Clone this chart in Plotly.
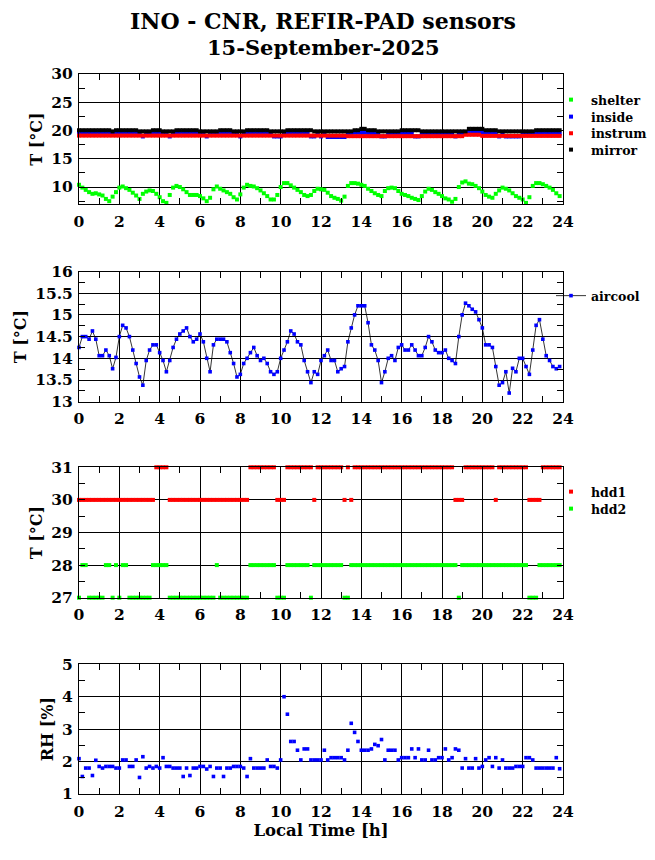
import plotly.graph_objects as go

# ---------------- data ----------------
minutes = list(range(0, 1440, 10))          # 10-minute sampling, 00:00 - 23:50
time_h = [m / 60 for m in minutes]

shelter = [10.4, 9.9, 9.5, 9.1, 8.8, 8.9, 8.7, 8.5, 7.9, 7.5,
           8.3, 9.1, 9.9, 10.1, 9.8, 9.5, 9.0, 8.5, 7.9, 8.8,
           9.2, 9.4, 9.3, 8.8, 8.2, 7.5, 7.2, 8.6, 9.9, 10.2,
           10.0, 9.6, 9.1, 8.6, 8.6, 8.6, 8.4, 8.0, 7.5, 8.1,
           9.6, 10.1, 9.7, 9.4, 9.1, 8.8, 8.2, 7.8, 8.7, 9.9,
           10.4, 10.2, 10.1, 9.8, 9.4, 8.9, 8.4, 7.8, 7.8, 8.6,
           10.0, 10.7, 10.7, 10.3, 9.9, 9.5, 9.1, 8.6, 8.4, 8.6,
           9.3, 9.7, 9.6, 9.5, 9.0, 8.4, 8.1, 7.9, 7.6, 8.3,
           10.2, 10.7, 10.7, 10.6, 10.4, 10.2, 9.7, 9.3, 8.9, 8.6,
           8.4, 9.3, 9.8, 9.9, 9.8, 9.3, 8.8, 8.6, 8.4, 8.1,
           7.9, 7.7, 8.4, 9.2, 9.7, 9.5, 9.1, 8.8, 8.4, 8.0,
           7.8, 7.4, 7.9, 10.0, 10.8, 11.0, 10.6, 10.5, 10.2, 9.8,
           9.2, 8.6, 8.3, 8.1, 8.8, 9.4, 9.9, 9.7, 9.4, 8.9,
           8.4, 8.1, 7.8, 7.2, 8.2, 10.2, 10.7, 10.7, 10.5, 10.2,
           9.9, 9.5, 8.9, 8.4]

inside = [19.45, 19.45, 19.45, 19.45, 19.45, 19.45, 19.45, 19.45, 19.45, 19.45, 19.45, 19.45,
          19.45, 19.45, 19.45, 19.45, 19.45, 19.45, 19.45, 18.95, 19.45, 19.45, 19.45, 19.45,
          19.45, 19.45, 19.45, 18.95, 19.45, 19.45, 19.45, 19.45, 19.45, 19.45, 19.45, 19.45,
          19.45, 19.45, 18.95, 19.45, 19.45, 19.45, 19.45, 19.45, 19.45, 19.45, 19.45, 19.45,
          18.95, 19.45, 19.45, 19.45, 19.45, 19.45, 19.45, 19.45, 19.45, 19.45, 18.95, 18.95,
          18.95, 19.45, 19.45, 19.45, 19.45, 19.45, 19.45, 19.45, 19.45, 18.95, 18.95, 19.45,
          18.95, 19.45, 18.85, 18.85, 18.85, 18.85, 18.85, 18.85, 19.45, 19.45, 19.6, 19.6,
          19.6, 19.6, 19.45, 19.45, 19.45, 19.45, 18.95, 18.95, 19.45, 19.45, 19.45, 19.45,
          19.45, 19.45, 19.45, 19.45, 18.95, 18.95, 19.45, 19.45, 19.45, 19.45, 19.45, 19.45,
          19.45, 19.45, 19.45, 19.45, 18.95, 19.45, 19.45, 19.45, 19.6, 19.6, 19.6, 19.6,
          19.6, 19.45, 19.45, 19.45, 19.45, 18.95, 19.45, 18.95, 18.95, 18.95, 18.95, 18.95,
          19.45, 19.45, 19.45, 19.45, 19.45, 19.45, 19.45, 19.45, 19.45, 19.45, 19.45, 19.45]

instrum = [19.1, 19.1, 19.1, 19.1, 19.1, 19.1, 19.1, 19.1, 19.1, 19.1, 19.1, 19.1,
           19.1, 19.1, 19.1, 19.1, 19.1, 19.1, 19.1, 19.1, 19.1, 19.1, 19.1, 19.1,
           19.1, 19.1, 19.1, 19.1, 19.1, 19.1, 19.1, 19.1, 19.1, 19.1, 19.1, 19.1,
           19.1, 19.1, 19.1, 19.1, 19.1, 19.1, 19.1, 19.1, 19.1, 19.1, 19.1, 19.1,
           19.1, 19.1, 19.1, 19.1, 19.1, 19.1, 19.1, 19.1, 19.1, 19.1, 19.1, 19.1,
           19.1, 19.1, 19.1, 19.1, 19.1, 19.1, 19.1, 19.1, 19.1, 19.1, 19.1, 19.1,
           19.1, 19.1, 19.1, 19.1, 19.1, 19.1, 19.1, 19.1, 19.0, 19.0, 19.0, 19.0,
           19.0, 19.0, 19.0, 19.0, 19.0, 19.0, 19.0, 19.0, 19.0, 19.0, 19.0, 19.0,
           19.0, 19.0, 19.0, 19.0, 19.0, 19.0, 19.0, 19.0, 19.0, 19.0, 19.0, 19.0,
           19.0, 19.0, 19.0, 19.0, 19.0, 19.0, 19.0, 19.25, 19.25, 19.25, 19.25, 19.25,
           19.05, 19.05, 19.05, 19.05, 19.05, 19.05, 19.05, 19.05, 19.05, 19.05, 19.05, 19.05,
           19.05, 19.05, 19.05, 19.05, 19.05, 19.05, 19.05, 19.05, 19.05, 19.05, 19.05, 19.05]

mirror = [20.05, 20.05, 20.05, 20.05, 20.05, 20.05, 20.05, 20.05, 20.05, 20.05, 19.85, 20.05,
          20.05, 20.05, 20.05, 20.05, 20.05, 20.05, 19.85, 19.85, 19.85, 19.85, 20.05, 20.05,
          20.05, 19.85, 19.85, 19.85, 19.85, 20.05, 20.05, 20.05, 20.05, 20.05, 20.05, 20.05,
          19.85, 19.85, 19.85, 19.85, 19.85, 19.85, 20.05, 20.05, 20.05, 20.05, 19.85, 19.85,
          19.85, 19.85, 20.05, 20.05, 20.05, 20.05, 20.05, 20.05, 20.05, 19.85, 19.85, 19.85,
          19.85, 19.85, 20.05, 20.05, 20.05, 20.05, 20.05, 20.05, 20.05, 20.05, 19.85, 19.85,
          19.85, 19.85, 19.85, 19.85, 19.85, 19.85, 19.85, 19.85, 19.85, 19.85, 20.05, 20.05,
          20.3, 20.3, 20.05, 20.05, 20.05, 19.85, 19.85, 19.85, 19.85, 19.85, 19.85, 19.85,
          20.05, 20.05, 20.05, 20.05, 20.05, 20.05, 19.85, 19.85, 19.85, 19.85, 19.85, 19.85,
          19.85, 19.85, 19.85, 19.85, 19.85, 19.85, 19.85, 19.85, 20.3, 20.3, 20.3, 20.3,
          20.3, 20.05, 20.05, 20.05, 20.05, 19.85, 19.85, 19.85, 19.85, 19.85, 19.85, 19.85,
          19.85, 19.85, 19.85, 19.85, 20.05, 20.05, 20.05, 20.05, 20.05, 20.05, 20.05, 20.05]

aircool = [14.25, 14.5, 14.5, 14.44, 14.63, 14.44, 14.06, 14.06, 14.19, 14.06,
           13.76, 14.02, 14.5, 14.76, 14.70, 14.5, 14.19, 13.88, 13.57, 13.38,
           13.95, 14.19, 14.31, 14.31, 14.13, 13.95, 13.69, 13.95, 14.25, 14.44,
           14.56, 14.63, 14.70, 14.5, 14.38, 14.44, 14.56, 14.38, 14.0, 13.69,
           14.31, 14.44, 14.44, 14.44, 14.38, 14.13, 13.88, 13.57, 13.63, 13.88,
           14.0, 14.13, 14.25, 14.06, 13.95, 14.0, 13.88, 13.69, 13.63, 13.69,
           14.0, 14.19, 14.38, 14.63, 14.56, 14.38, 14.31, 13.95, 13.69, 13.44,
           13.69, 13.63, 13.95, 14.06, 14.19, 13.95, 13.95, 13.69, 13.76, 13.81,
           14.38, 14.70, 15.0, 15.21, 15.21, 15.21, 14.82, 14.31, 14.19, 13.95,
           13.44, 13.69, 14.0, 14.06, 13.95, 14.25, 14.31, 14.19, 14.19, 14.31,
           14.19, 14.06, 14.06, 14.25, 14.5, 14.38, 14.19, 14.13, 14.13, 14.19,
           14.0, 13.95, 13.88, 14.5, 15.0, 15.27, 15.21, 15.13, 15.07, 14.89,
           14.70, 14.31, 14.31, 14.25, 13.81, 13.38, 13.44, 13.69, 13.20, 13.77,
           13.69, 14.0, 14.0, 13.81, 13.63, 14.19, 14.76, 14.89, 14.44, 14.06,
           13.95, 13.81, 13.76, 13.81]

hdd1 = [30, 30, 30, 30, 30, 30, 30, 30, 30, 30, 30, 30,
        30, 30, 30, 30, 30, 30, 30, 30, 30, 30, 30, 31,
        31, 31, 31, 30, 30, 30, 30, 30, 30, 30, 30, 30,
        30, 30, 30, 30, 30, 30, 30, 30, 30, 30, 30, 30,
        30, 30, 30, 31, 31, 31, 31, 31, 31, 31, 31, 30,
        30, 30, 31, 31, 31, 31, 31, 31, 31, 31, 30, 31,
        31, 31, 31, 31, 31, 31, 31, 30, 31, 30, 31, 31,
        31, 31, 31, 31, 31, 31, 31, 31, 31, 31, 31, 31,
        31, 31, 31, 31, 31, 31, 31, 31, 31, 31, 31, 31,
        31, 31, 31, 31, 30, 30, 30, 31, 31, 31, 31, 31,
        31, 31, 31, 31, 30, 31, 31, 31, 31, 31, 31, 31,
        31, 31, 30, 30, 30, 30, 31, 31, 31, 31, 31, 31]

hdd2 = [27, 28, 28, 27, 27, 27, 27, 27, 28, 28, 27, 28,
        27, 28, 28, 27, 27, 27, 27, 27, 27, 27, 28, 28,
        28, 28, 28, 27, 27, 27, 27, 27, 27, 27, 27, 27,
        27, 27, 27, 27, 27, 28, 27, 27, 27, 27, 27, 27,
        27, 27, 27, 28, 28, 28, 28, 28, 28, 28, 28, 27,
        27, 27, 28, 28, 28, 28, 28, 28, 28, 27, 28, 28,
        28, 28, 28, 28, 28, 28, 28, 27, 27, 28, 28, 28,
        28, 28, 28, 28, 28, 28, 28, 28, 28, 28, 28, 28,
        28, 28, 28, 28, 28, 28, 28, 28, 28, 28, 28, 28,
        28, 28, 28, 28, 28, 27, 28, 28, 28, 28, 28, 28,
        28, 28, 28, 28, 28, 28, 28, 28, 28, 28, 28, 28,
        28, 28, 27, 27, 27, 28, 28, 28, 28, 28, 28, 28]

rh = [2.09, 1.54, 1.8, 1.8, 1.57, 2.04, 1.85, 1.8, 1.85, 1.85, 1.85, 1.8,
      1.8, 2.05, 2.05, 1.85, 1.85, 2.05, 1.51, 2.15, 1.8, 1.85, 1.8, 1.85,
      1.8, 2.12, 1.85, 1.85, 1.8, 1.8, 1.8, 1.54, 1.8, 1.57, 1.8, 1.8,
      1.85, 1.85, 1.77, 1.85, 1.54, 1.8, 1.8, 1.54, 1.8, 1.8, 1.85, 1.85,
      1.85, 1.8, 1.54, 2.09, 1.8, 1.8, 1.8, 1.8, 2.05, 1.85, 1.85, 1.8,
      2.05, 4.0, 3.46, 2.62, 2.62, 2.35, 2.05, 2.39, 2.39, 2.05, 2.05, 2.05,
      2.05, 2.35, 2.05, 2.12, 2.12, 2.12, 2.12, 2.05, 2.35, 3.18, 2.9, 2.62,
      2.35, 2.35, 2.35, 2.39, 2.53, 2.49, 2.68, 2.05, 2.35, 2.35, 2.35, 2.05,
      2.12, 2.12, 2.12, 2.39, 2.12, 2.39, 2.05, 2.05, 2.35, 2.05, 2.05, 2.12,
      2.12, 2.39, 2.05, 2.12, 2.39, 2.35, 1.8, 2.09, 1.8, 1.8, 2.09, 1.8,
      1.85, 2.05, 2.12, 1.85, 2.12, 1.8, 2.05, 1.8, 1.8, 1.8, 1.85, 1.85,
      1.85, 2.12, 2.12, 2.05, 1.8, 1.8, 1.8, 1.8, 1.8, 1.8, 2.12, 1.78]

title_line1 = "INO - CNR, REFIR-PAD sensors"
title_line2 = "15-September-2025"
x_ticks = [0, 2, 4, 6, 8, 10, 12, 14, 16, 18, 20, 22, 24]

# ---------------- layout geometry ----------------
# The page body adds an 8 px offset; window coordinates are converted below.
FONT = "DejaVu Serif"
W, H = 647, 844
ML, MR, MT, MB = 71, 92, 66, 58
PW = W - ML - MR
PH = H - MT - MB
OFF = 8


def yf(px):           # window pixel (from top) -> paper fraction
    return (H - MB - (px - OFF)) / PH


def xf(px):           # window pixel (from left) -> paper fraction
    return (px - OFF - ML) / PW


fig = go.Figure()


def add(name, y, color, xa, ya, legend, mode="markers", size=4):
    tr = dict(x=time_h, y=y, name=name, mode=mode, xaxis=xa, yaxis=ya,
              showlegend=legend is not None,
              marker=dict(symbol="square", size=size, color=color, line=dict(width=0)),
              cliponaxis=False)
    if legend is not None:
        tr["legend"] = legend
    if mode == "lines+markers":
        tr["line"] = dict(color="black", width=0.8)
    fig.add_trace(go.Scatter(**tr))


add("shelter", shelter, "#00ff00", "x", "y", "legend")
add("inside", inside, "#0000ff", "x", "y", "legend2")
add("instrum.", instrum, "#ff0000", "x", "y", "legend3")
add("mirror", mirror, "#000000", "x", "y", "legend4")
add("aircool", aircool, "#0000ff", "x2", "y2", "legend5", mode="lines+markers", size=3.6)
add("hdd1", hdd1, "#ff0000", "x3", "y3", "legend6")
add("hdd2", hdd2, "#00ff00", "x3", "y3", "legend7")
add("RH", rh, "#0000ff", "x4", "y4", None, size=3.6)

tickfont = dict(family=FONT, size=15.5, color="black", weight="bold")
titlefont = dict(family=FONT, size=16, color="black", weight="bold")

common = dict(showline=True, linecolor="black", linewidth=1, mirror="ticks",
              showgrid=True, gridcolor="black", gridwidth=1, zeroline=False,
              ticks="inside", ticklen=6, tickcolor="black", tickwidth=1,
              tickfont=tickfont, automargin=False)


def xaxis(anchor, title=None):
    d = dict(common, range=[0, 24], tickmode="array", tickvals=x_ticks,
             ticktext=[str(v) for v in x_ticks], anchor=anchor, domain=[0, 1],
             minor=dict(dtick=1, tick0=0, ticks="inside", ticklen=6,
                        tickcolor="black", showgrid=False),
             ticklabelstandoff=3)
    if title:
        d["title"] = dict(text=title, font=dict(titlefont, size=16.5), standoff=4)
    return d


def yaxis(anchor, rng, dtick, minor, dom, title):
    return dict(common, range=rng, dtick=dtick, tick0=0, anchor=anchor,
                domain=dom,
                minor=dict(dtick=minor, tick0=0, ticks="inside", ticklen=6,
                           tickcolor="black", showgrid=False),
                title=dict(text=title, font=titlefont, standoff=4),
                ticklabelstandoff=2)


def legend(center_px):
    return dict(x=xf(551), xanchor="left", y=yf(center_px), yanchor="middle",
                bgcolor="rgba(0,0,0,0)", borderwidth=0, itemwidth=30,
                font=dict(family=FONT, size=12.5, color="black", weight="bold"),
                tracegroupgap=0)


fig.update_layout(
    width=W, height=H,
    margin=dict(l=ML, r=MR, t=MT, b=MB, pad=0, autoexpand=False),
    paper_bgcolor="white", plot_bgcolor="white",
    font=dict(family=FONT, color="black"),
    xaxis=xaxis("y"),
    xaxis2=xaxis("y2"),
    xaxis3=xaxis("y3"),
    xaxis4=xaxis("y4", "Local Time [h]"),
    yaxis=yaxis("x", [7, 30], 5, 2.5, [yf(204), yf(74)], "T [°C]"),
    yaxis2=yaxis("x2", [13, 16], 0.5, 0.25, [yf(401.7), yf(271.5)], "T [°C]"),
    yaxis3=yaxis("x3", [27, 31], 1, 0.5, [yf(597.7), yf(467.3)], "T [°C]"),
    yaxis4=yaxis("x4", [1, 5], 1, 0.5, [yf(794), yf(664.3)], "RH [%]"),
    legend=legend(100), legend2=legend(117), legend3=legend(133.5),
    legend4=legend(150), legend5=legend(296), legend6=legend(492),
    legend7=legend(509),
    annotations=[
        dict(text=title_line1, xref="paper", yref="paper", x=xf(323), y=yf(21),
             xanchor="center", yanchor="middle", showarrow=False,
             font=dict(family=FONT, size=22, color="black", weight="bold")),
        dict(text=title_line2, xref="paper", yref="paper", x=xf(323), y=yf(48),
             xanchor="center", yanchor="middle", showarrow=False,
             font=dict(family=FONT, size=21, color="black", weight="bold")),
    ],
    showlegend=True,
)

fig.write_html("out.html")
